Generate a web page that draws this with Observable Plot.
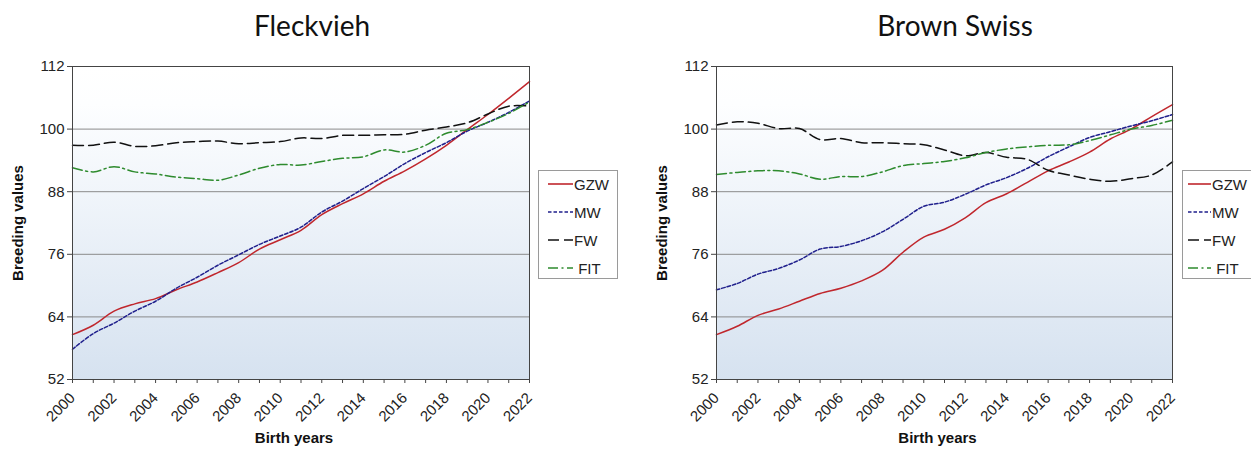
<!DOCTYPE html>
<html>
<head>
<meta charset="utf-8">
<script src="https://cdn.jsdelivr.net/npm/d3@7"></script>
<script src="https://cdn.jsdelivr.net/npm/@observablehq/plot@0.6"></script>
<style>
  html, body { margin: 0; padding: 0; background: #fff; }
  #wrap { position: relative; width: 1251px; height: 451px; overflow: hidden; }
  .title { position: absolute; top: 11px; font-family: Lato, "Open Sans", sans-serif; font-size: 28px; line-height: 28px; color: #111; transform: translateX(-50%); white-space: nowrap; }
  .chart { position: absolute; top: 0; }
  .legend { position: absolute; top: 170px; height: 107px; border: 1px solid #9a9a9a; background: #fff; font-family: "Liberation Sans", Arial, sans-serif; font-size: 15px; color: #222; }
  .legend .row { position: absolute; height: 20px; display: flex; align-items: center; white-space: nowrap; }
  .legend svg { display: block; margin-right: 1px; }
</style>
</head>
<body>
<div id="wrap"></div>
<script>
// ---- data ----
const years = [2000, 2001, 2002, 2003, 2004, 2005, 2006, 2007, 2008, 2009, 2010, 2011,
               2012, 2013, 2014, 2015, 2016, 2017, 2018, 2019, 2020, 2021, 2022];
const seriesNames = ["GZW", "MW", "FW", "FIT"];
const yTicks = [52, 64, 76, 88, 100, 112];
const chartTitles = ["Fleckvieh", "Brown Swiss"];
const xTitle = "Birth years";
const yTitle = "Breeding values";

const fleckGZW = [60.6, 62.4, 65.1, 66.5, 67.5, 69.2, 70.7, 72.5, 74.4, 77.0, 78.8, 80.6, 83.6, 85.7, 87.6, 90.0, 92.0, 94.3, 96.9, 99.9, 102.8, 105.9, 109.1];
const fleckMW  = [57.8, 60.8, 62.8, 65.1, 67.0, 69.5, 71.6, 73.9, 75.9, 77.9, 79.5, 81.2, 84.1, 86.2, 88.6, 90.9, 93.4, 95.5, 97.4, 99.6, 101.3, 103.2, 105.4];
const fleckFW  = [96.9, 96.9, 97.5, 96.7, 96.8, 97.4, 97.6, 97.7, 97.2, 97.4, 97.6, 98.3, 98.2, 98.8, 98.8, 98.9, 99.0, 99.8, 100.4, 101.2, 102.9, 104.4, 104.4];
const fleckFIT = [92.6, 91.8, 92.8, 91.8, 91.4, 90.8, 90.5, 90.2, 91.2, 92.5, 93.2, 93.1, 93.8, 94.4, 94.7, 96.0, 95.6, 96.9, 99.2, 99.9, 101.3, 103.0, 105.2];

const bsGZW = [60.6, 62.2, 64.3, 65.5, 67.0, 68.5, 69.5, 70.9, 72.9, 76.4, 79.3, 80.8, 83.0, 85.9, 87.6, 89.8, 92.0, 93.7, 95.6, 98.1, 100.0, 102.4, 104.7];
const bsMW  = [69.2, 70.4, 72.2, 73.3, 74.9, 77.0, 77.5, 78.6, 80.3, 82.7, 85.2, 86.0, 87.5, 89.3, 90.7, 92.5, 94.7, 96.6, 98.4, 99.5, 100.6, 101.6, 102.8];
const bsFW  = [100.8, 101.4, 101.1, 100.1, 100.1, 98.0, 98.2, 97.4, 97.4, 97.2, 97.0, 96.0, 94.9, 95.5, 94.6, 94.2, 92.1, 91.2, 90.4, 90.0, 90.5, 91.2, 93.7];
const bsFIT = [91.3, 91.7, 92.0, 92.0, 91.4, 90.4, 90.9, 90.9, 91.8, 93.0, 93.4, 93.8, 94.5, 95.5, 96.2, 96.6, 96.9, 97.0, 97.8, 98.9, 100.0, 100.7, 101.7];

// ---- styles ----
const styles = {
  GZW: {stroke: "#c0272d", dash: null},
  MW:  {stroke: "#1f1f8c", dash: "3.5,2"},
  FW:  {stroke: "#111111", dash: "11,5"},
  FIT: {stroke: "#2e8b2e", dash: "10,3.5,2,3.5"}
};

function tidy(arrs) {
  const rows = [];
  seriesNames.forEach((s, k) => arrs[k].forEach((v, i) => rows.push({year: years[i], value: v, series: s})));
  return rows;
}

const charts = [
  {title: chartTitles[0], data: tidy([fleckGZW, fleckMW, fleckFW, fleckFIT]), left: 0, width: 630, ml: 72, mr: 101, titleX: 312, legendLeft: 538, legendW: 78, pad: 9, sw: 25, id: "bgL"},
  {title: chartTitles[1], data: tidy([bsGZW, bsMW, bsFW, bsFIT]), left: 630, width: 621, ml: 86, mr: 79, titleX: 955, legendLeft: 1182, legendW: 90, pad: 5, sw: 23, id: "bgR"}
];

const wrap = document.getElementById("wrap");

charts.forEach(c => {
  const lines = seriesNames.map(s => Plot.line(c.data.filter(d => d.series === s), {
    x: "year", y: "value", stroke: styles[s].stroke, strokeWidth: 1.5,
    strokeDasharray: styles[s].dash || undefined, curve: "catmull-rom"
  }));
  const plot = Plot.plot({
    width: c.width, height: 451,
    marginTop: 66, marginBottom: 72, marginLeft: c.ml, marginRight: c.mr,
    style: {fontFamily: "'Liberation Sans', Arial, sans-serif", fontSize: "15px", color: "#222", background: "transparent", overflow: "visible"},
    x: {domain: [years[0], years[years.length - 1]]},
    y: {domain: [yTicks[0], yTicks[yTicks.length - 1]]},
    marks: [
      Plot.frame({fill: `url(#${c.id})`}),
      Plot.gridY(yTicks.slice(1, -1), {stroke: "#8a8a8a", strokeOpacity: 1, strokeWidth: 1}),
      ...lines,
      Plot.frame({stroke: "#444", strokeWidth: 1}),
      Plot.axisX({ticks: years, tickSize: 4, tickPadding: 12, tickRotate: -45, fontSize: 15,
        tickFormat: d => (d % 2 === 0 ? String(d) : ""), label: null, stroke: "#444"}),
      Plot.axisY({ticks: yTicks, tickSize: 5, tickPadding: 3, fontSize: 15, label: null, stroke: "#444"}),
      Plot.text([xTitle], {frameAnchor: "bottom", dy: 63, dx: -7, text: d => d, fontWeight: "bold", fontSize: 15, fill: "#111"}),
      Plot.text([yTitle], {frameAnchor: "left", dx: -54, rotate: -90, textAnchor: "middle", lineAnchor: "middle", text: d => d, fontWeight: "bold", fontSize: 15, fill: "#111"})
    ]
  });
  // gradient background
  const ns = "http://www.w3.org/2000/svg";
  const defs = document.createElementNS(ns, "defs");
  const grad = document.createElementNS(ns, "linearGradient");
  grad.setAttribute("id", c.id);
  grad.setAttribute("x1", "0"); grad.setAttribute("y1", "0");
  grad.setAttribute("x2", "0"); grad.setAttribute("y2", "1");
  [["0%", "#ffffff"], ["12%", "#fdfeff"], ["100%", "#d6e2f0"]].forEach(([o, col]) => {
    const st = document.createElementNS(ns, "stop");
    st.setAttribute("offset", o); st.setAttribute("stop-color", col);
    grad.appendChild(st);
  });
  defs.appendChild(grad);
  plot.insertBefore(defs, plot.firstChild);

  const holder = document.createElement("div");
  holder.className = "chart";
  holder.style.left = c.left + "px";
  holder.appendChild(plot);
  wrap.appendChild(holder);

  const t = document.createElement("div");
  t.className = "title";
  t.style.left = c.titleX + "px";
  t.textContent = c.title;
  wrap.appendChild(t);

  // legend
  const lg = document.createElement("div");
  lg.className = "legend";
  lg.style.left = c.legendLeft + "px";
  lg.style.width = c.legendW + "px";
  seriesNames.forEach((s, k) => {
    const row = document.createElement("div");
    row.className = "row";
    row.style.left = c.pad + "px";
    row.style.top = (3 + k * 28) + "px";
    const sw = d3.create("svg").attr("width", c.sw).attr("height", 6);
    sw.append("line").attr("x1", 0).attr("x2", c.sw).attr("y1", 3).attr("y2", 3)
      .attr("stroke", styles[s].stroke).attr("stroke-width", 1.6)
      .attr("stroke-dasharray", styles[s].dash);
    row.appendChild(sw.node());
    const sp = document.createElement("span");
    sp.textContent = (s === "FIT" ? "\u00a0" : "") + s;
    row.appendChild(sp);
    lg.appendChild(row);
  });
  wrap.appendChild(lg);
});
</script>
</body>
</html>
